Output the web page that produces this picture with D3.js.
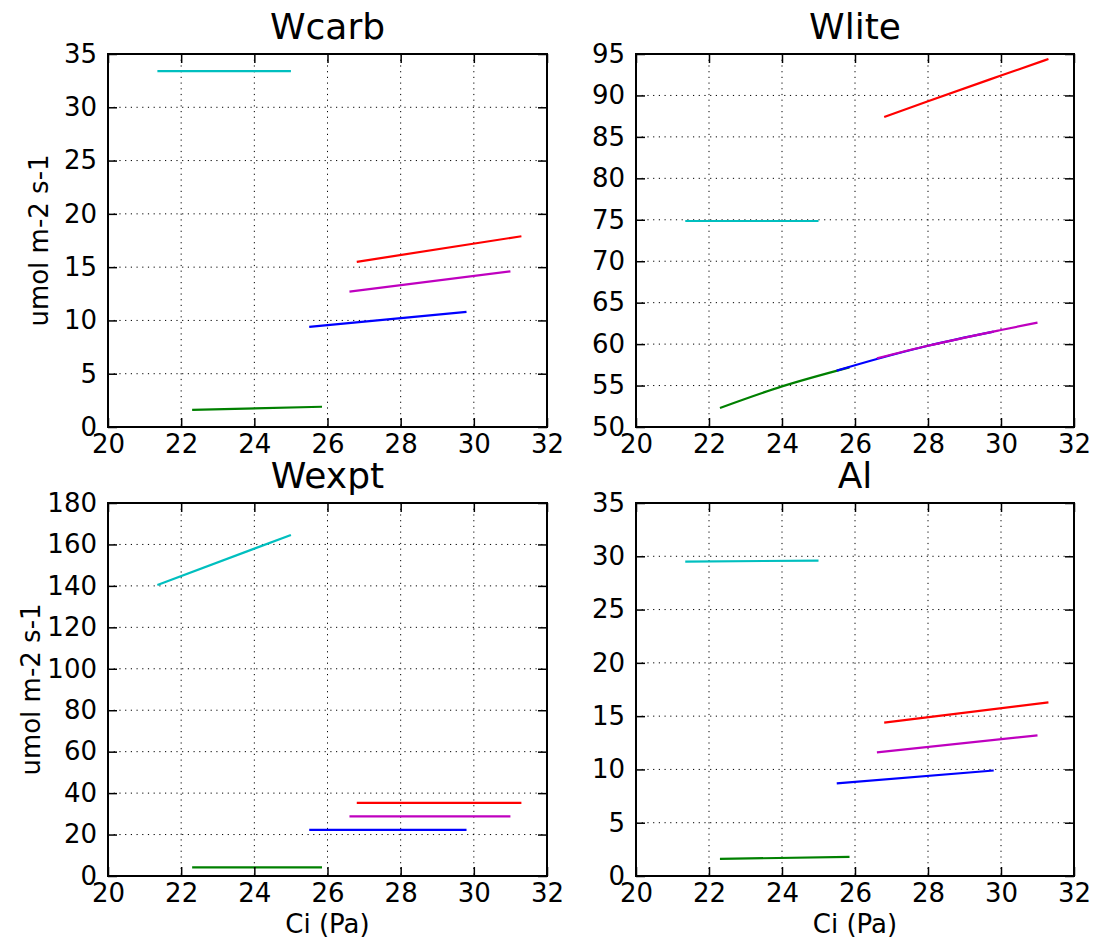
<!DOCTYPE html>
<html><head><meta charset="utf-8">
<script src="https://cdn.jsdelivr.net/npm/d3@7"></script>
<style>body{margin:0;background:#fff}</style>
</head><body>
<svg id="c" width="1094" height="942"></svg>
<script>
const xTicks = [20,22,24,26,28,30,32];
const panelTitles = ["Wcarb","Wlite","Wexpt","Al"];
const yDomains = [[0,35],[50,95],[0,180],[0,35]];
const yTickSteps = [5,5,20,5];
const seriesColors = {blue:"#0000ff", green:"#008000", red:"#ff0000", cyan:"#00bfbf", magenta:"#bf00bf"};
const drawOrder = ["green","blue","magenta","red","cyan"];

// each series: [x, y] points
const wcarb = {
  cyan:[[21.35,33.4],[25.0,33.4]],
  red:[[26.8,15.5],[31.3,17.9]],
  magenta:[[26.6,12.7],[31.0,14.6]],
  blue:[[25.5,9.4],[29.8,10.8]],
  green:[[22.3,1.6],[25.85,1.9]]
};
const wlite = {
  cyan:[[21.35,74.85],[25.0,74.85]],
  red:[[26.8,87.4],[28,89.3],[30,92.4],[31.3,94.4]],
  magenta:[[26.6,58.3],[28,59.8],[30,61.7],[31.0,62.6]],
  blue:[[25.5,56.8],[26.6,58.2],[28,59.8],[29.8,61.5]],
  green:[[22.3,52.3],[24,54.9],[25.85,57.2]]
};
const wexpt = {
  cyan:[[21.35,140.4],[25.0,164.6]],
  red:[[26.8,35.3],[31.3,35.3]],
  magenta:[[26.6,28.8],[31.0,28.8]],
  blue:[[25.5,22.3],[29.8,22.3]],
  green:[[22.3,4.2],[25.85,4.2]]
};
const al = {
  cyan:[[21.35,29.5],[25.0,29.6]],
  red:[[26.8,14.4],[31.3,16.3]],
  magenta:[[26.6,11.6],[31.0,13.2]],
  blue:[[25.5,8.7],[29.8,9.9]],
  green:[[22.3,1.6],[25.85,1.8]]
};
const panelData = [wcarb, wlite, wexpt, al];

const svg = d3.select("#c");
const boxes = [
  {x0:108,x1:547,y0:54,y1:427,yl:48},
  {x0:636,x1:1074,y0:54,y1:427},
  {x0:108,x1:547,y0:503,y1:876,yl:40},
  {x0:636,x1:1074,y0:503,y1:876}
];
const font = "DejaVu Sans, sans-serif";

boxes.forEach((b,i)=>{
  const x = d3.scaleLinear().domain([20,32]).range([b.x0,b.x1]);
  const yd = yDomains[i];
  const y = d3.scaleLinear().domain(yd).range([b.y1,b.y0]);
  const yTicks = d3.range(yd[0], yd[1]+0.001, yTickSteps[i]);
  const g = svg.append("g");
  // grid
  g.selectAll(".gx").data(xTicks.slice(1,-1)).enter().append("line")
    .attr("x1",d=>x(d)).attr("x2",d=>x(d)).attr("y1",b.y0).attr("y2",b.y1)
    .attr("stroke","#000").attr("stroke-width",1).attr("stroke-dasharray","1.2,4.5");
  g.selectAll(".gy").data(yTicks.slice(1,-1)).enter().append("line")
    .attr("y1",d=>y(d)).attr("y2",d=>y(d)).attr("x1",b.x0).attr("x2",b.x1)
    .attr("stroke","#000").attr("stroke-width",1).attr("stroke-dasharray","1.2,4.5");
  // lines
  const line = d3.line().x(d=>x(d[0])).y(d=>y(d[1])).curve(d3.curveMonotoneX);
  drawOrder.forEach(k=>{
    g.append("path").attr("d",line(panelData[i][k])).attr("fill","none")
      .attr("stroke",seriesColors[k]).attr("stroke-width",2.2);
  });
  // axes with inward ticks
  const ax = d3.axisBottom(x).tickValues(xTicks).tickSize(-9).tickPadding(8).tickFormat(d3.format("d"));
  const axT = d3.axisTop(x).tickValues(xTicks).tickSize(-9).tickFormat("");
  const ay = d3.axisLeft(y).tickValues(yTicks).tickSize(-9).tickPadding(11).tickFormat(d3.format("d"));
  const ayR = d3.axisRight(y).tickValues(yTicks).tickSize(-9).tickFormat("");
  g.append("g").attr("transform",`translate(0,${b.y1})`).call(ax);
  g.append("g").attr("transform",`translate(0,${b.y0})`).call(axT);
  g.append("g").attr("transform",`translate(${b.x0},0)`).call(ay);
  g.append("g").attr("transform",`translate(${b.x1},0)`).call(ayR);
  g.selectAll(".domain").attr("stroke","none");
  g.selectAll(".tick line").attr("stroke","#000").attr("stroke-width",1.5);
  g.selectAll(".tick text").attr("font-family",font).attr("font-size",26).attr("fill","#000");
  g.append("rect").attr("x",b.x0).attr("y",b.y0).attr("width",b.x1-b.x0).attr("height",b.y1-b.y0)
    .attr("fill","none").attr("stroke","#000").attr("stroke-width",2);
  // title
  g.append("text").attr("x",(b.x0+b.x1)/2).attr("y",b.y0-15).attr("text-anchor","middle")
    .attr("font-family",font).attr("font-size",36).attr("fill","#000").text(panelTitles[i]);
  if (i%2===0) {
    g.append("text").attr("transform",`translate(${b.yl},${(b.y0+b.y1)/2}) rotate(-90)`)
      .attr("text-anchor","middle").attr("font-family",font).attr("font-size",26).text("umol m-2 s-1");
  }
  if (i>=2) {
    g.append("text").attr("x",(b.x0+b.x1)/2).attr("y",933).attr("text-anchor","middle")
      .attr("font-family",font).attr("font-size",26).text("Ci (Pa)");
  }
});
</script>
</body></html>
